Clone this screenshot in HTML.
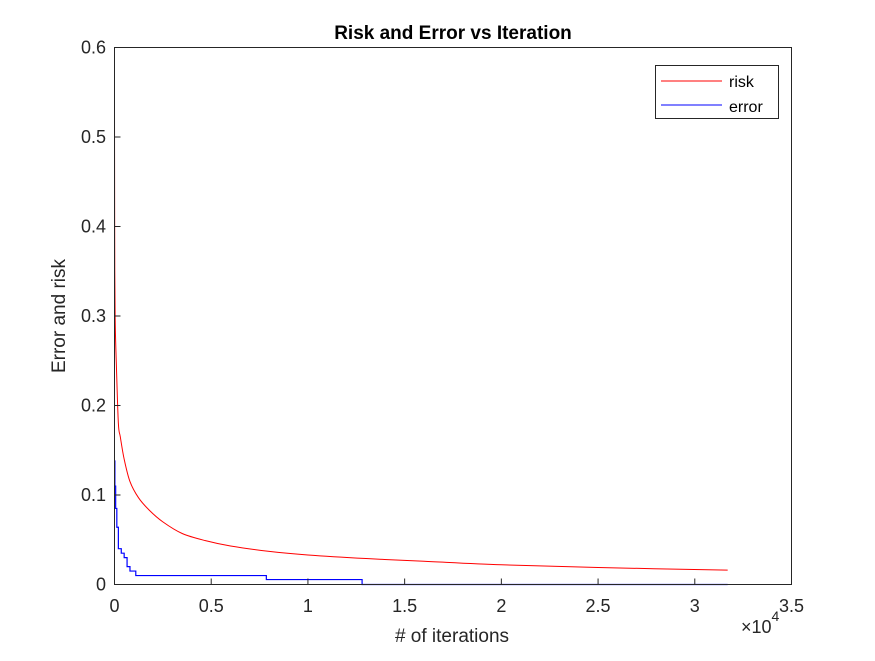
<!DOCTYPE html>
<html><head><meta charset="utf-8"><style>
body{margin:0;background:#fff;}
svg text{font-family:"Liberation Sans",Arial,sans-serif;}
</style></head><body>
<svg id="chart" width="875" height="656" viewBox="0 0 875 656" xmlns="http://www.w3.org/2000/svg">
<rect width="875" height="656" fill="#fff"/>
<text x="453" y="39" text-anchor="middle" font-size="19" font-weight="bold" fill="#000">Risk and Error vs Iteration</text>
<g id="series"></g>
<rect x="114.5" y="47.5" width="677" height="537" fill="none" stroke="#262626" stroke-width="1"/>
<g id="ticks"></g>
<text x="452" y="642" text-anchor="middle" font-size="19" fill="#262626"># of iterations</text>
<text transform="translate(65,316) rotate(-90)" text-anchor="middle" font-size="19" fill="#262626">Error and risk</text>
<text x="741" y="633" font-size="18" fill="#262626">×10<tspan font-size="14" dy="-12">4</tspan></text>
<g>
<rect x="655.5" y="65.5" width="123" height="53" fill="#fff" stroke="#262626" stroke-width="1"/>
<line x1="661" y1="81" x2="722" y2="81" stroke="#f00"/>
<text x="729" y="87" font-size="16" fill="#000">risk</text>
<line x1="661" y1="105" x2="722" y2="105" stroke="#00f"/>
<text x="729" y="112" font-size="16" fill="#000">error</text>
</g>
</svg>
<script>
const xTicks=[0,0.5,1,1.5,2,2.5,3,3.5];
const xTickLabels=["0","0.5","1","1.5","2","2.5","3","3.5"];
const yTicks=[0,0.1,0.2,0.3,0.4,0.5,0.6];
const yTickLabels=["0","0.1","0.2","0.3","0.4","0.5","0.6"];
const riskIter=[0,5,15,40,100,200,300,500,800,1240,1800,2500,3500,4700,6000,8000,10000,13000,16000,20000,25000,31700];
const riskVal=[0.542,0.45,0.35,0.29,0.243,0.18,0.165,0.14,0.115,0.097,0.083,0.07,0.057,0.049,0.043,0.037,0.033,0.029,0.026,0.022,0.019,0.016];
const errIter=[0,20,60,120,200,350,500,650,800,1100,7850,12800,31700];
const errVal=[0.138,0.11,0.085,0.064,0.04,0.035,0.03,0.02,0.015,0.01,0.0055,0,0];
const X0=114.5,X1=791.5,Y0=584.5,Y1=47.5;
function sx(v){return X0+(v/35000)*(X1-X0);}
function sy(v){return Y0-(v/0.6)*(Y0-Y1);}
const NS="http://www.w3.org/2000/svg";
const ticks=document.getElementById('ticks');
xTicks.forEach((t,i)=>{
 const x=sx(t*10000);
 const l=document.createElementNS(NS,'line');
 l.setAttribute('x1',x);l.setAttribute('x2',x);l.setAttribute('y1',Y0);l.setAttribute('y2',Y0-6);
 l.setAttribute('stroke','#262626');
 
 
 ticks.appendChild(l);
 const tx=document.createElementNS(NS,'text');
 tx.setAttribute('x',x);tx.setAttribute('y',612);tx.setAttribute('text-anchor','middle');tx.setAttribute('font-size','18');tx.setAttribute('fill','#262626');
 tx.textContent=xTickLabels[i];
 
 
 ticks.appendChild(tx);
});
yTicks.forEach((t,i)=>{
 const y=sy(t);
 const l=document.createElementNS(NS,'line');
 l.setAttribute('x1',X0);l.setAttribute('x2',X0+6);l.setAttribute('y1',y);l.setAttribute('y2',y);
 l.setAttribute('stroke','#262626');
 
 
 ticks.appendChild(l);
 const tx=document.createElementNS(NS,'text');
 tx.setAttribute('x',106);tx.setAttribute('y',y+6);tx.setAttribute('text-anchor','end');tx.setAttribute('font-size','18');tx.setAttribute('fill','#262626');
 tx.textContent=yTickLabels[i];
 
 
 ticks.appendChild(tx);
});
const series=document.getElementById('series');
const pts=riskIter.map((v,i)=>[sx(v),sy(riskVal[i])]);
let d='M'+pts[0][0]+','+pts[0][1];
for(let i=0;i<pts.length-1;i++){
 const p0=pts[Math.max(0,i-1)],p1=pts[i],p2=pts[i+1],p3=pts[Math.min(pts.length-1,i+2)];
 const c1x=p1[0]+(p2[0]-p0[0])/6,c1y=p1[1]+(p2[1]-p0[1])/6;
 const c2x=p2[0]-(p3[0]-p1[0])/6,c2y=p2[1]-(p3[1]-p1[1])/6;
 d+=' C'+c1x+','+c1y+' '+c2x+','+c2y+' '+p2[0]+','+p2[1];
}
const r=document.createElementNS(NS,'path');
r.setAttribute('d',d);r.setAttribute('fill','none');r.setAttribute('stroke','#f00');r.setAttribute('stroke-width','1');


series.appendChild(r);
let ep=[];
errIter.forEach((v,i)=>{
 if(i>0) ep.push(sx(v).toFixed(2)+','+sy(errVal[i-1]).toFixed(2));
 ep.push(sx(v).toFixed(2)+','+sy(errVal[i]).toFixed(2));
});
const e=document.createElementNS(NS,'polyline');
e.setAttribute('points',ep.join(' '));e.setAttribute('fill','none');e.setAttribute('stroke','#00f');e.setAttribute('stroke-width','1.2');


series.appendChild(e);
</script>
</body></html>
